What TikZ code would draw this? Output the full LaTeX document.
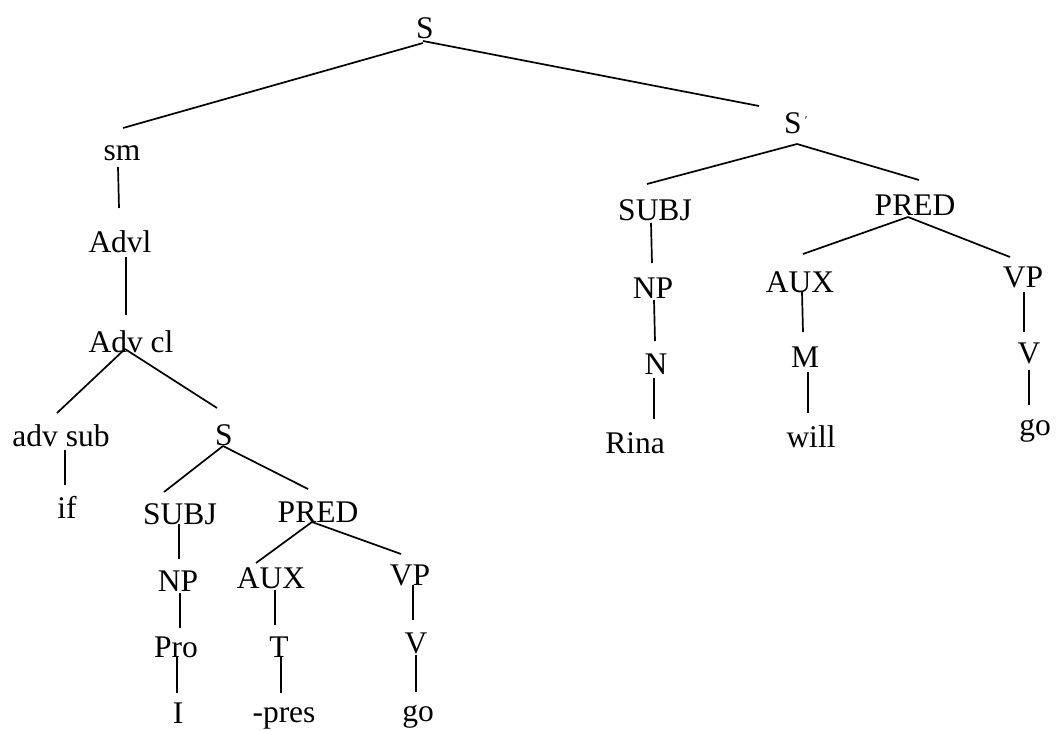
\documentclass[tikz,border=0pt]{standalone}
\usepackage{fontspec}
\setmainfont{Liberation Serif}
\begin{document}
\begin{tikzpicture}[x=1pt,y=-1pt,
  lbl/.style={inner sep=0pt,anchor=base,font=\fontsize{31.5}{37}\selectfont},
  branch/.style={line width=1.7pt}]
\useasboundingbox (0,0) rectangle (1061,731);

% top level
\node[lbl] (S0) at (425,38) {S};
\node[lbl] (Sp) at (793,133) {S\rlap{\kern3pt\raisebox{9pt}{\fontsize{12}{12}\selectfont ′}}};

% left branch: sentence modifier
\node[lbl] (sm) at (122,160) {sm};
\node[lbl] (advl) at (120,252) {Advl};
\node[lbl] (advcl) at (131,352) {Adv cl};
\node[lbl] (advsub) at (61,446) {adv sub};
\node[lbl] (if) at (67,518) {if};
\node[lbl] (S1) at (224,445) {S};
\node[lbl] (subjL) at (180,524) {SUBJ};
\node[lbl] (predL) at (318,522) {PRED};
\node[lbl] (npL) at (178,591) {NP};
\node[lbl] (auxL) at (271,588) {AUX};
\node[lbl] (vpL) at (410,585) {VP};
\node[lbl] (pro) at (176,657) {Pro};
\node[lbl] (T) at (279,657) {T};
\node[lbl] (vL) at (416,653) {V};
\node[lbl] (I) at (178,723) {I};
\node[lbl] (pres) at (284,722) {-pres};
\node[lbl] (goL) at (418,721) {go};

% right branch: main clause
\node[lbl] (subjR) at (655,220) {SUBJ};
\node[lbl] (predR) at (915,215) {PRED};
\node[lbl] (npR) at (653,298) {NP};
\node[lbl] (auxR) at (800,292) {AUX};
\node[lbl] (vpR) at (1023,287) {VP};
\node[lbl] (N) at (656,374) {N};
\node[lbl] (M) at (805,367) {M};
\node[lbl] (vR) at (1029,363) {V};
\node[lbl] (rina) at (635,453) {Rina};
\node[lbl] (will) at (811,447) {will};
\node[lbl] (goR) at (1035,435) {go};

% branches
\draw[branch] ([shift={(-2,5)}]S0.base) -- ([shift={(1,-32)}]sm.base);
\draw[branch] ([shift={(-2,3)}]S0.base) -- ([shift={(-34,-27)}]Sp.base);
\draw[branch] ([shift={(-4,7)}]sm.base) -- ([shift={(-1,-44)}]advl.base);
\draw[branch] ([shift={(6,5)}]advl.base) -- ([shift={(-5,-37)}]advcl.base);
\draw[branch] ([shift={(-6,-3)}]advcl.base) -- ([shift={(-4,-33)}]advsub.base);
\draw[branch] ([shift={(-6,-3)}]advcl.base) -- ([shift={(-7,-37)}]S1.base);
\draw[branch] ([shift={(4,4)}]advsub.base) -- ([shift={(-2,-33)}]if.base);
\draw[branch] ([shift={(-1,1)}]S1.base) -- ([shift={(-16,-32)}]subjL.base);
\draw[branch] ([shift={(-1,1)}]S1.base) -- ([shift={(-10,-33)}]predL.base);
\draw[branch] ([shift={(-1,0)}]subjL.base) -- ([shift={(1,-32)}]npL.base);
\draw[branch] ([shift={(2,2)}]npL.base) -- ([shift={(4,-29)}]pro.base);
\draw[branch] ([shift={(1,0)}]pro.base) -- ([shift={(-1,-30)}]I.base);
\draw[branch] ([shift={(-6,0)}]predL.base) -- ([shift={(-15,-25)}]auxL.base);
\draw[branch] ([shift={(-6,0)}]predL.base) -- ([shift={(-9,-31)}]vpL.base);
\draw[branch] ([shift={(4,2)}]auxL.base) -- ([shift={(-4,-32)}]T.base);
\draw[branch] ([shift={(2,0)}]T.base) -- ([shift={(-3,-29)}]pres.base);
\draw[branch] ([shift={(3,0)}]vpL.base) -- ([shift={(-3,-33)}]vL.base);
\draw[branch] ([shift={(0,2)}]vL.base) -- ([shift={(-2,-29)}]goL.base);

\draw[branch] ([shift={(4,11)}]Sp.base) -- ([shift={(-8,-36)}]subjR.base);
\draw[branch] ([shift={(4,11)}]Sp.base) -- ([shift={(4,-35)}]predR.base);
\draw[branch] ([shift={(-4,3)}]subjR.base) -- ([shift={(-1,-35)}]npR.base);
\draw[branch] ([shift={(1,2)}]npR.base) -- ([shift={(-1,-33)}]N.base);
\draw[branch] ([shift={(-2,4)}]N.base) -- ([shift={(19,-34)}]rina.base);
\draw[branch] ([shift={(-7,2)}]predR.base) -- ([shift={(3,-38)}]auxR.base);
\draw[branch] ([shift={(-7,2)}]predR.base) -- ([shift={(-13,-30)}]vpR.base);
\draw[branch] ([shift={(2,0)}]auxR.base) -- ([shift={(-2,-35)}]M.base);
\draw[branch] ([shift={(3,5)}]M.base) -- ([shift={(-3,-34)}]will.base);
\draw[branch] ([shift={(1,5)}]vpR.base) -- ([shift={(-5,-31)}]vR.base);
\draw[branch] ([shift={(0,7)}]vR.base) -- ([shift={(-6,-30)}]goR.base);
\end{tikzpicture}
\end{document}
